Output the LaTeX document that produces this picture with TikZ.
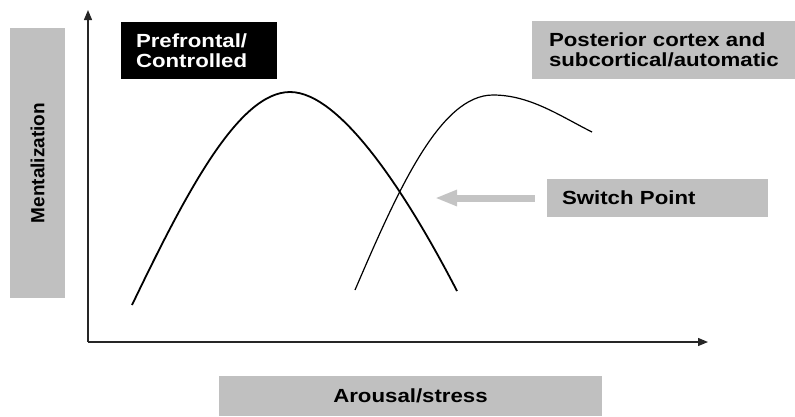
\documentclass[tikz,border=0pt]{standalone}
\usepackage{fontspec}
\setmainfont{Liberation Sans}
\newfontfamily\widesans[FakeStretch=1.17]{Liberation Sans}
\usetikzlibrary{arrows.meta, positioning}
\definecolor{boxgray}{RGB}{192,192,192}
\definecolor{pointgray}{RGB}{196,196,196}
\tikzset{
    labelbox/.style={rectangle, fill=#1, inner ysep=0pt, inner xsep=15pt, align=left, font=\widesans\bfseries\fontsize{19}{20}\selectfont},
    axisline/.style={-{Triangle[length=10pt, width=8pt]}, line width=1.3pt, black!85},
    curveline/.style={line width=#1, black},
    pointer/.style={-{Triangle[length=22pt, width=15pt]}, line width=7pt, pointgray}
}

\begin{document}
\begin{tikzpicture}[x=1pt, y=-1pt]
\useasboundingbox (0,0) rectangle (795,416);

% axes
\coordinate (origin) at (88,342);
\coordinate (ytop) at (88,10);
\coordinate (xend) at (708,342);
\draw[axisline] (origin) -- (ytop);
\draw[axisline] (origin) -- (xend);

% labels
\node[labelbox=boxgray, rotate=90, minimum width=270pt, minimum height=55pt, align=center,
      font=\bfseries\fontsize{19}{20}\selectfont] (ylab) at (37.5,163) {Mentalization};
\node[labelbox=boxgray, minimum height=40pt, text width=353pt, align=center] (xlab) at (410.5,396) {Arousal/stress};
\node[labelbox=black, text=white, minimum height=57pt, text width=126pt] (pfc) at (199,50.5) {Prefrontal/\\Controlled};
\node[labelbox=boxgray, inner xsep=17pt, minimum height=58pt, text width=231pt] (post) at (664.5,50) {Posterior cortex and\\subcortical/automatic};
\node[labelbox=boxgray, minimum height=38pt, text width=191pt] (switch) at (657.5,198) {Switch Point};

% curves
\coordinate (pfcstart) at (132,305);
\coordinate (pfcpeak) at (290,92);
\coordinate (pfcend) at (457,291);
\draw[curveline=1.8pt] (pfcstart) .. controls (185,195) and (238,92) .. (pfcpeak)
    .. controls (342,92) and (410,200) .. (pfcend);

\coordinate (poststart) at (355,290);
\coordinate (postpeak) at (493,95);
\coordinate (postend) at (592,132);
\draw[curveline=1.2pt] (poststart) .. controls (398,190) and (440,95) .. (postpeak)
    .. controls (530,95) and (560,116) .. (postend);

% switch point
\coordinate (crossing) at (435,198);
\draw[pointer] ([xshift=-12pt]switch.west) -- (crossing);

\end{tikzpicture}
\end{document}
